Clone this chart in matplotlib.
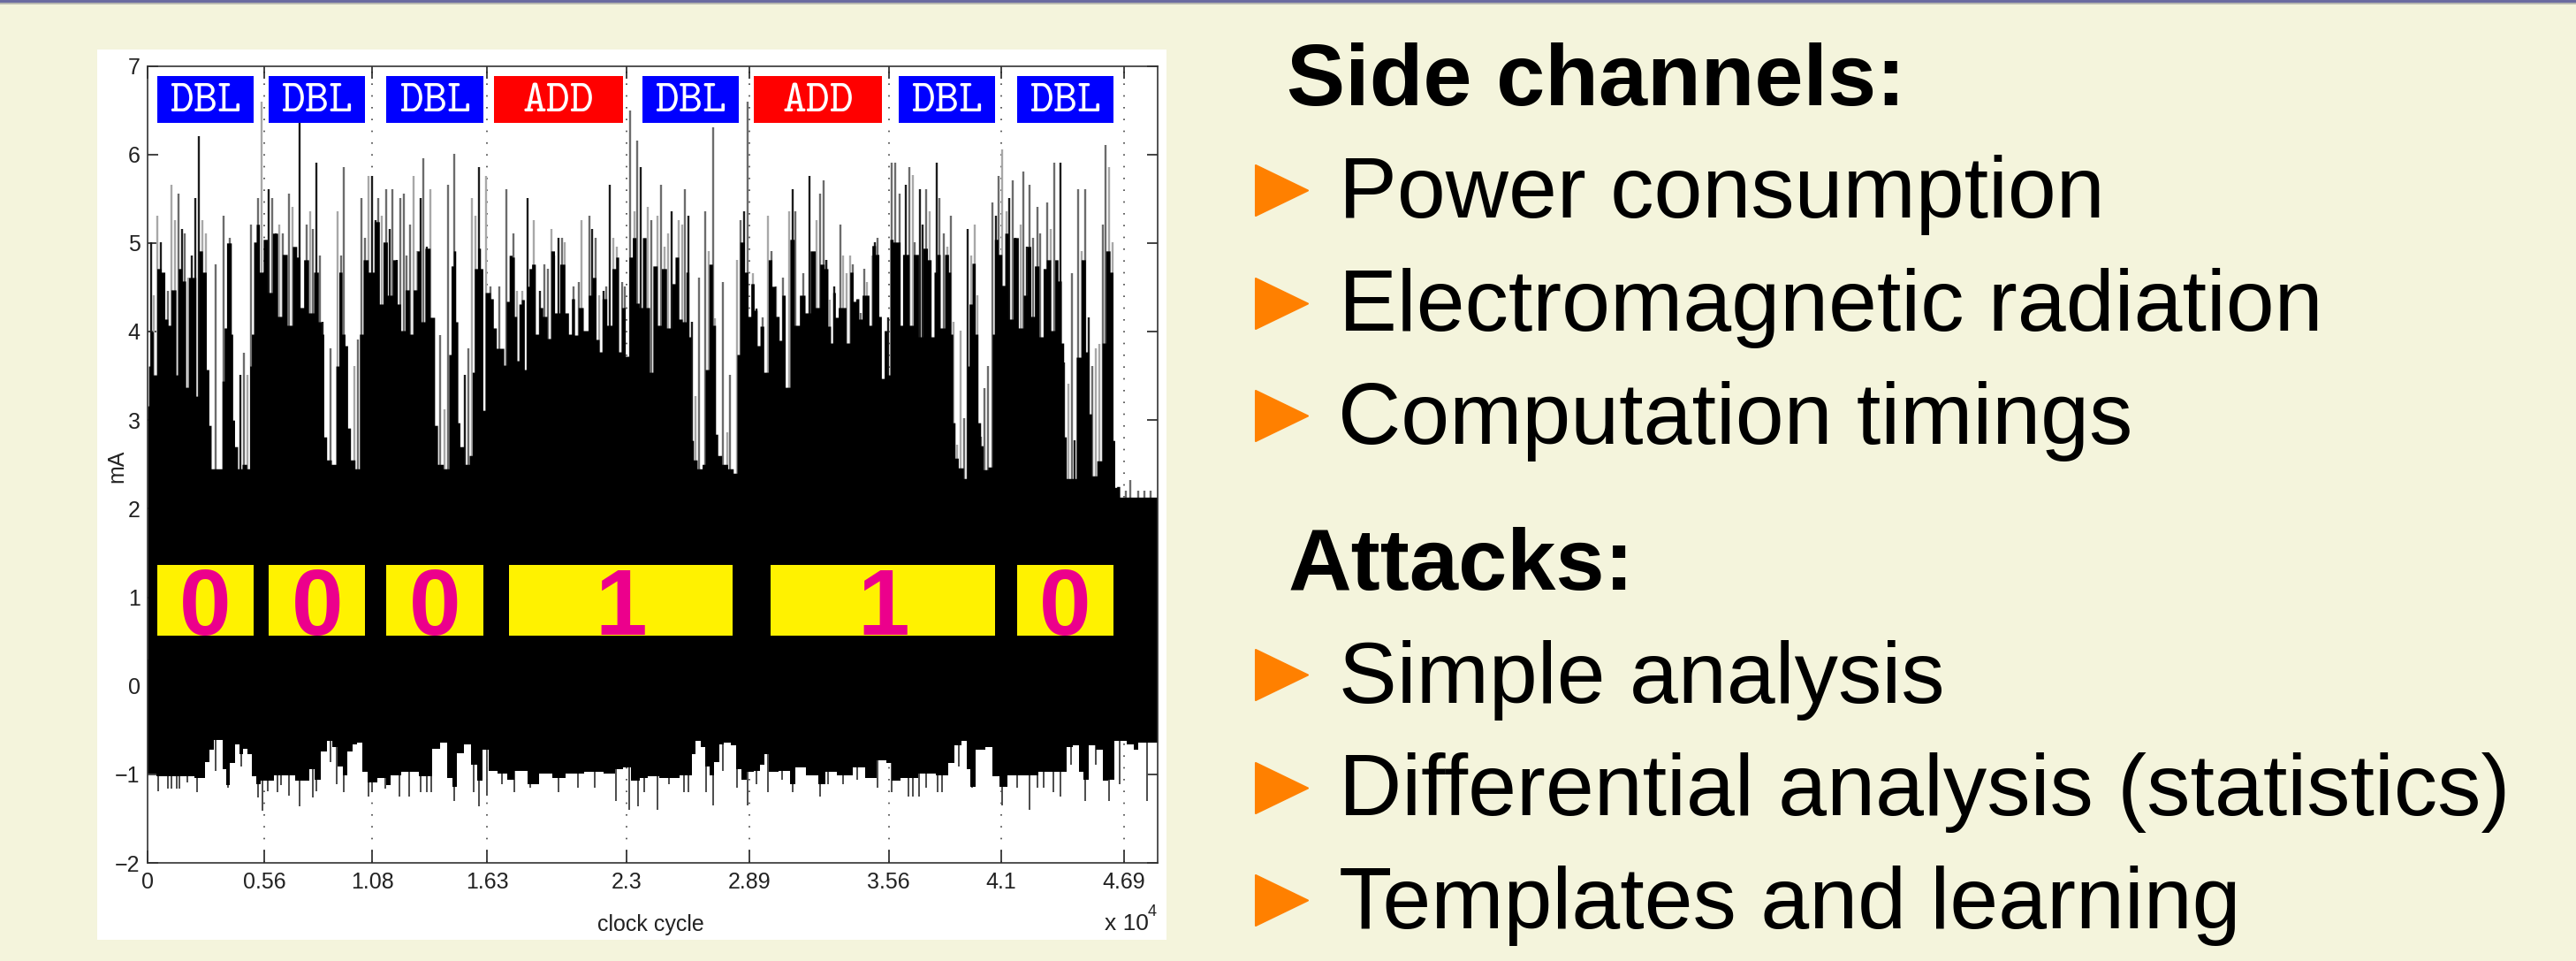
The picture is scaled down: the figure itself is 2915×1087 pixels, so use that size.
#!/usr/bin/python3
# Slide: power trace of a scalar multiplication, with the side channel lists
import matplotlib
matplotlib.use("Agg")
import matplotlib.pyplot as plt
from matplotlib.patches import Polygon, Rectangle

plt.rcParams['font.family'] = ['Liberation Sans', 'DejaVu Sans']
plt.rcParams['mathtext.fontset'] = 'cm'

### Data (x in units of 10^4 clock cycles, y in mA)

tick_x = [0, 0.56, 1.08, 1.63, 2.3, 2.89, 3.56, 4.1, 4.69]
tick_x_labels = ['0', '0.56', '1.08', '1.63', '2.3', '2.89', '3.56', '4.1', '4.69']
tick_y = [-2, -1, 0, 1, 2, 3, 4, 5, 6, 7]

# upper edge of the solid black part of the trace
top_x = [0, 0.01, 0.02, 0.034, 0.055, 0.076, 0.09, 0.105, 0.119, 0.133, 0.14, 0.154, 0.176, 0.19, 0.204,
         0.225, 0.239, 0.253, 0.275, 0.289, 0.30, 0.311, 0.328, 0.353, 0.362, 0.374, 0.385, 0.40, 0.405,
         0.413, 0.423, 0.442, 0.466, 0.487, 0.494, 0.504, 0.515, 0.529, 0.546, 0.565, 0.586, 0.614, 0.636,
         0.657, 0.685, 0.706, 0.727, 0.737, 0.763, 0.784, 0.812, 0.829, 0.841, 0.852, 0.869, 0.897, 0.912,
         0.926, 0.943, 0.954, 0.968, 0.982, 1.011, 1.025, 1.046, 1.074, 1.103, 1.124, 1.138, 1.166, 1.188,
         1.209, 1.223, 1.251, 1.265, 1.287, 1.301, 1.322, 1.343, 1.372, 1.386, 1.40, 1.442, 1.452, 1.464,
         1.475, 1.486, 1.495, 1.506, 1.534, 1.556, 1.563, 1.577, 1.594, 1.605, 1.616, 1.628,
         1.640, 1.654, 1.668, 1.683, 1.704, 1.718, 1.728, 1.746, 1.756, 1.768, 1.779, 1.789, 1.803, 1.817,
         1.827, 1.838, 1.852, 1.874, 1.888, 1.909, 1.930, 1.944, 1.966, 1.994, 2.015, 2.029, 2.044, 2.058,
         2.079, 2.107, 2.128, 2.143, 2.164, 2.175, 2.192, 2.220, 2.242, 2.256, 2.270, 2.284, 2.305, 2.320,
         2.338, 2.355, 2.369, 2.386, 2.404, 2.419, 2.436, 2.461, 2.475, 2.511, 2.525, 2.543, 2.560, 2.577,
         2.596, 2.605, 2.617, 2.628, 2.652, 2.676, 2.681, 2.688, 2.705, 2.723, 2.734, 2.744, 2.772, 2.801,
         2.826, 2.836, 2.855, 2.879, 2.889, 2.907, 2.921, 2.935, 2.949, 2.971, 2.992, 3.006, 3.027, 3.041,
         3.053, 3.073, 3.098, 3.115, 3.148, 3.169, 3.197, 3.218,
         3.240, 3.261, 3.276, 3.286, 3.297, 3.311, 3.325, 3.346, 3.365, 3.382, 3.396, 3.410, 3.424, 3.441,
         3.460, 3.471, 3.488, 3.506, 3.520, 3.530, 3.547, 3.559, 3.573, 3.590, 3.608, 3.622, 3.632, 3.651,
         3.665, 3.693, 3.714, 3.736, 3.757, 3.771, 3.785, 3.799, 3.816, 3.842, 3.853, 3.863, 3.874, 3.884,
         3.905, 3.934, 3.941, 3.952, 3.969, 3.983, 3.995, 4.009, 4.019, 4.054, 4.061, 4.075, 4.097, 4.111,
         4.125, 4.146, 4.170, 4.196, 4.217, 4.234, 4.252, 4.269, 4.295, 4.309, 4.326, 4.351, 4.365, 4.382,
         4.397, 4.405, 4.422, 4.450, 4.472, 4.497, 4.514, 4.528, 4.542, 4.578, 4.592, 4.613, 4.634, 4.641,
         4.651, 4.66, 4.68, 4.85]
top_y = [3.16, 3.61, 4.0, 3.51, 4.71, 4.67, 4.14, 4.07, 4.47, 4.47, 3.51, 4.71, 4.57, 3.37, 4.61,
         4.61, 3.27, 4.91, 4.67, 3.57, 2.94, 2.45, 2.45, 2.45, 3.44, 4.04, 5.0, 5.0, 3.97,
         3.0, 2.7, 2.45, 2.5, 2.45, 3.61, 3.97, 5.01, 5.21, 4.67, 5.04, 4.44, 5.11, 4.17,
         4.87, 4.07, 4.96, 4.84, 4.27, 4.81, 4.21, 4.67, 4.11, 3.97, 2.81, 2.55, 2.5, 3.61,
         4.67, 3.97, 3.84, 2.91, 2.55, 2.45, 3.97, 4.81, 4.67, 5.24, 4.31, 5.01, 4.41, 4.81,
         4.31, 4.01, 4.47, 3.97, 4.47, 4.91, 4.11, 4.94, 4.16, 2.94, 2.5, 2.45, 3.74, 4.74,
         4.91, 4.11, 2.97, 2.7, 2.5, 2.6, 3.54, 4.71, 4.94, 4.71, 3.11, 4.44,
         4.44, 4.37, 4.04, 3.81, 3.81, 3.62, 4.34, 4.86, 4.84, 4.17, 3.67, 4.31, 4.36, 3.57,
         4.51, 4.71, 4.76, 3.97, 4.27, 4.17, 3.92, 4.91, 4.21, 4.76, 4.21, 3.97, 4.37, 3.96,
         4.27, 4.01, 4.41, 4.61, 3.91, 3.77, 4.37, 4.07, 4.71, 4.84, 3.77, 4.27, 3.72, 4.84,
         5.06, 4.32, 4.27, 5.06, 4.27, 3.54, 4.74, 4.07, 4.71, 4.04, 4.54, 4.84, 4.14, 4.11,
         4.67, 3.94, 2.77, 2.55, 2.45, 2.5, 3.57, 3.57, 4.76, 4.07, 2.84, 2.6, 2.5, 2.45,
         2.4, 3.74, 5.01, 4.67, 4.17, 4.54, 4.24, 3.84, 4.06, 3.54, 4.81, 4.51, 4.17, 3.9,
         4.41, 3.37, 5.04, 4.07, 4.41, 4.21, 4.91, 4.27,
         4.76, 4.71, 4.06, 3.87, 4.44, 4.16, 4.27, 4.27, 3.87, 4.67, 4.34, 4.37, 4.14, 4.41,
         4.41, 4.07, 4.97, 4.87, 4.17, 3.47, 4.01, 3.51, 5.04, 5.01, 5.01, 4.07, 4.87, 4.87,
         4.07, 4.87, 3.94, 4.94, 4.81, 3.94, 4.67, 4.87, 4.04, 4.87, 4.67, 3.97, 2.97, 2.57,
         2.46, 2.34, 3.61, 4.31, 4.77, 3.97, 2.97, 2.71, 2.44, 2.47, 3.97, 5.04, 4.87, 4.52,
         5.11, 4.14, 5.06, 4.04, 4.41, 4.96, 4.17, 4.74, 3.94, 4.71, 4.81, 4.01, 4.81, 4.57,
         3.87, 2.81, 2.34, 2.34, 3.71, 4.81, 3.77, 3.07, 2.37, 2.54, 3.87, 4.91, 4.67, 2.77,
         2.24, 2.25, 2.13, 2.13]

# lower edge of the solid black part of the trace
low_x = [0, 0.084, 0.177, 0.269, 0.285, 0.308, 0.331, 0.354, 0.370, 0.385, 0.408, 0.432, 0.447, 0.470,
         0.493, 0.509, 0.532, 0.555, 0.586, 0.625, 0.686, 0.733, 0.764, 0.787, 0.818, 0.849, 0.872, 0.903,
         0.926, 0.949, 0.972, 0.995, 1.018, 1.042, 1.072, 1.134, 1.157, 1.181, 1.258, 1.351, 1.381, 1.428,
         1.451, 1.474, 1.497, 1.544, 1.567, 1.598, 1.621, 1.652, 1.706, 1.752, 1.775, 1.814, 1.837, 1.922,
         1.968, 2.045, 2.153, 2.230, 2.261, 2.308, 2.339, 2.393,
         2.412, 2.506, 2.608, 2.624, 2.640, 2.671, 2.687, 2.710, 2.734, 2.758, 2.781, 2.820, 2.836, 2.868,
         2.891, 2.930, 2.954, 2.974, 2.993, 3.072, 3.098, 3.127, 3.197, 3.245, 3.268, 3.355, 3.417, 3.480,
         3.527, 3.567, 3.582, 3.653, 3.747, 3.826, 3.865, 3.889, 3.928, 3.944, 3.959, 3.999, 4.046, 4.069,
         4.116, 4.148, 4.218, 4.344, 4.399, 4.431, 4.462, 4.486, 4.509, 4.533, 4.580, 4.595, 4.635, 4.650,
         4.690, 4.721, 4.753, 4.768, 4.839, 4.85]
low_y = [-0.99, -1.02, -1.02, -1.04, -0.86, -0.72, -0.61, -0.61, -0.94, -1.12, -0.87, -0.66, -0.77, -0.71,
         -0.77, -1.02, -1.11, -1.07, -1.07, -1.01, -1.01, -1.07, -1.07, -0.94, -1.06, -0.74, -0.62, -0.69,
         -0.91, -1.01, -0.74, -0.66, -0.64, -0.97, -1.09, -1.04, -1.12, -1.01, -0.97, -1.02, -0.71, -0.64,
         -1.04, -1.14, -0.76, -0.66, -0.89, -1.07, -0.72, -0.96, -0.99, -1.06, -0.96, -0.96, -1.11, -0.99,
         -1.04, -0.99, -0.97, -0.99, -0.94, -0.92, -1.07, -1.04,
         -1.02, -1.04, -1.01, -0.77, -0.62, -0.69, -0.91, -1.01, -0.86, -0.66, -0.64, -0.67, -0.94, -1.06,
         -0.97, -0.96, -0.89, -0.77, -0.97, -0.96, -1.11, -0.92, -1.01, -1.11, -0.97, -1.01, -0.92, -1.04,
         -0.84, -0.87, -1.07, -1.04, -0.99, -1.01, -0.87, -0.67, -0.62, -0.94, -1.14, -0.72, -0.69, -1.02,
         -1.14, -1.01, -1.01, -0.97, -0.97, -0.69, -0.67, -0.97, -1.06, -0.67, -0.72, -1.07, -1.06, -0.62,
         -0.62, -0.66, -0.72, -0.64, -0.64, -0.64]

# upward spikes, by grey level
light_x = [0.048, 0.031, 0.115, 0.133, 0.197, 0.263, 0.279, 0.480, 0.546, 0.631, 0.695, 0.779, 0.912, 0.994,
           1.062, 1.127, 1.277, 1.294, 1.359, 1.425, 1.560, 1.577, 1.626,
           1.773, 1.799, 1.857, 1.940, 2.005, 2.086, 2.171, 2.239, 2.253, 2.338, 2.402, 2.451, 2.482, 2.501,
           2.550, 2.569, 2.632, 2.697, 2.727, 2.784, 2.833, 2.907, 2.982, 3.081, 3.213,
           3.278, 3.342, 3.358, 3.375, 3.455, 3.481, 3.675, 3.757, 3.842, 3.870, 3.887, 3.905, 3.956, 3.973,
           3.985, 4.106, 4.125, 4.193, 4.337, 4.487, 4.554, 4.571, 4.620, 4.634, 4.422]
light_y = [5.31, 4.41, 5.66, 5.26, 4.61, 5.26, 5.11, 3.51, 6.6, 5.21, 5.41, 5.36, 5.36, 3.61,
           5.76, 5.31, 5.76, 4.91, 5.61, 3.12, 5.51, 5.31, 5.76,
           4.46, 4.46, 5.26, 5.16, 5.01, 5.26, 4.41, 5.06, 4.96, 5.36, 5.41, 5.31, 4.96, 5.11,
           5.26, 5.21, 3.27, 4.91, 4.15, 2.86, 4.81, 4.66, 5.31, 5.36, 5.26,
           4.36, 4.86, 4.66, 4.86, 4.56, 4.86, 5.77, 5.36, 4.96, 4.11, 2.72, 4.01, 4.86, 5.21,
           4.41, 6.06, 5.36, 5.21, 5.16, 4.91, 3.81, 3.86, 5.86, 5.01, 3.41]
mid_x = [0.098, 0.147, 0.180, 0.328, 0.364, 0.395, 0.461, 0.498, 0.529, 0.597, 0.648, 0.678, 0.763, 0.795,
         0.827, 0.879, 0.929, 0.944, 1.012, 1.028, 1.045, 1.110, 1.145, 1.178, 1.212, 1.229, 1.243, 1.260,
         1.325, 1.407, 1.444, 1.475, 1.541,
         1.647, 1.690, 1.725, 1.756, 1.905, 1.923, 1.954, 1.990, 2.046, 2.072, 2.121, 2.154, 2.203, 2.280,
         2.294, 2.317, 2.352, 2.419, 2.465, 2.581, 2.649, 2.680, 2.716, 2.764, 2.798, 2.850, 2.883, 2.956,
         2.999, 3.020, 3.051, 3.112, 3.148, 3.230, 3.247, 3.261,
         3.328, 3.389, 3.427, 3.441, 3.508, 3.576, 3.591, 3.611, 3.658, 3.686, 3.740, 3.805, 3.823, 3.857,
         3.924, 4.005, 4.022, 4.037, 4.058, 4.089, 4.156, 4.206, 4.238, 4.252, 4.273, 4.288, 4.320, 4.354,
         4.439, 4.470, 4.504, 4.538, 4.588, 4.603, 4.70, 4.72, 4.76, 4.79, 4.82]
mid_y = [4.46, 5.56, 5.11, 4.76, 5.31, 5.06, 3.76, 5.21, 5.51, 5.51, 5.11, 5.56, 5.21, 5.16,
         4.86, 3.81, 4.86, 5.86, 3.91, 5.51, 5.06, 5.51, 5.61, 5.61, 5.51, 5.56, 4.86, 5.21,
         5.96, 3.96, 5.66, 6.01, 3.81,
         4.51, 4.51, 5.61, 5.11, 4.76, 4.71, 4.86, 5.06, 4.51, 4.56, 5.31, 5.06, 4.51, 4.56,
         4.51, 6.5, 6.16, 5.26, 5.66, 5.61, 4.61, 5.36, 6.31, 4.56, 3.51, 5.26, 6.6, 4.16,
         4.91, 4.51, 4.61, 5.36, 4.66, 5.56, 5.71, 4.81,
         5.21, 4.76, 4.21, 4.71, 5.06, 5.91, 5.91, 5.56, 5.86, 5.01, 5.61, 5.51, 5.11, 5.31,
         3.02, 2.81, 3.36, 3.61, 5.46, 5.76, 5.71, 5.81, 5.66, 5.06, 5.41, 5.11, 5.46, 5.91,
         4.66, 5.61, 5.61, 3.61, 5.21, 6.11, 2.2, 2.32, 2.2, 2.2, 2.2]
dark_x = [0.017, 0.065, 0.164, 0.211, 0.229, 0.245, 0.447, 0.580, 0.614, 0.729, 0.811, 0.841, 1.079, 1.096,
          1.162, 1.195, 1.311, 1.343, 1.524, 1.594,
          1.824, 1.885, 1.973, 2.137, 2.192, 2.219, 2.369, 2.516, 2.598, 2.613, 2.867, 2.924, 3.098, 3.179,
          3.261, 3.300, 3.410, 3.492, 3.556, 3.641, 3.709, 3.723, 3.789, 3.941, 4.074, 4.140, 4.170, 4.224,
          4.387, 4.402, 4.454, 4.521]
dark_y = [5.01, 5.01, 5.16, 4.86, 5.51, 6.21, 3.51, 5.61, 5.11, 6.36, 5.91, 4.11, 5.76, 5.26,
          5.16, 4.81, 5.51, 4.96, 3.51, 5.86,
          5.51, 4.46, 5.06, 5.16, 4.46, 5.66, 5.86, 5.36, 5.31, 4.11, 5.36, 4.26, 5.61, 5.76,
          4.81, 4.51, 4.36, 5.01, 4.16, 5.66, 5.61, 5.21, 5.91, 5.16, 5.31, 5.51, 5.06, 4.96,
          5.91, 3.65, 2.77, 4.16]

# downward spikes under the lower edge
drop_x = [0.050, 0.097, 0.115, 0.141, 0.154, 0.189, 0.239, 0.328, 0.385, 0.450, 0.529, 0.551, 0.578, 0.622,
          0.640, 0.679, 0.730, 0.795, 0.810, 0.879, 0.910, 0.944, 1.060, 1.080, 1.142, 1.211, 1.258, 1.312,
          1.343, 1.363, 1.474, 1.566, 1.594, 1.628, 1.702, 1.760, 1.837, 1.973, 2.068, 2.146, 2.249, 2.315,
          2.354, 2.385,
          2.451, 2.506, 2.577, 2.600, 2.682, 2.715, 2.765, 2.833, 2.883, 2.923, 2.981, 3.048, 3.097, 3.229,
          3.268, 3.339, 3.409, 3.507, 3.574, 3.653, 3.677, 3.708, 3.739, 3.794, 3.818, 3.896, 3.959, 4.105,
          4.179, 4.237, 4.273, 4.305, 4.352, 4.387, 4.438, 4.504, 4.556, 4.619, 4.671, 4.803]
drop_y = [-1.19, -1.16, -1.16, -1.16, -1.16, -1.09, -1.2, -0.96, -1.15, -0.91, -1.26, -1.41, -1.19, -1.2,
          -1.12, -1.24, -1.36, -1.26, -1.19, -0.86, -1.11, -1.2, -1.25, -1.2, -1.16, -1.25, -1.25, -1.2,
          -1.2, -1.2, -1.3, -1.2, -1.36, -1.24, -1.11, -1.2, -1.15, -1.2, -1.15, -1.15, -1.3, -1.4,
          -1.36, -1.2,
          -1.4, -1.11, -1.2, -1.2, -1.2, -1.35, -0.96, -1.15, -1.35, -1.11, -1.2, -1.06, -1.2, -1.25,
          -1.11, -1.11, -1.06, -1.15, -1.2, -1.25, -1.25, -1.25, -1.15, -1.2, -1.2, -0.91, -1.15, -1.35,
          -1.15, -1.4, -1.15, -1.15, -1.2, -1.25, -0.89, -1.3, -0.89, -1.3, -1.11, -1.3]

# operations along the trace
op_labels = ['DBL', 'DBL', 'DBL', 'ADD', 'DBL', 'ADD', 'DBL', 'DBL']
op_start = [0.046, 0.582, 1.148, 1.664, 2.377, 2.913, 3.610, 4.177]
op_end = [0.510, 1.046, 1.612, 2.283, 2.840, 3.529, 4.073, 4.638]

# recovered key bits
bit_labels = ['0', '0', '0', '1', '1', '0']
bit_start = [0.046, 0.582, 1.148, 1.736, 2.994, 4.177]
bit_end = [0.510, 1.046, 1.612, 2.809, 4.073, 4.638]

headings = ['Side channels:', 'Attacks:']
bullets_side = ['Power consumption', 'Electromagnetic radiation', 'Computation timings']
bullets_attack = ['Simple analysis', 'Differential analysis (statistics)', 'Templates and learning']

### Figure

W, H = 2915, 1087
bgcolor = '#F4F4DC'
orange = '#FF8000'
textcol = '#222222'
fig = plt.figure(figsize=(W/100, H/100), dpi=100, facecolor=bgcolor)

# full size layer, in pixels
bg = fig.add_axes([0, 0, 1, 1], zorder=0)
bg.set_xlim(0, W)
bg.set_ylim(H, 0)
bg.axis('off')
bg.add_patch(Rectangle((0, 0), W, 3, color='#6A6AA0', lw=0))
bg.add_patch(Rectangle((0, 3), W, 2, color='#B8B8B0', lw=0))
bg.add_patch(Rectangle((110, 56), 1210, 1007, color='white', lw=0))

def arrow(x0, y0, y1):
    bg.add_patch(Polygon([(x0, y0), (x0+59, (y0+y1)/2), (x0, y1)], closed=True, fc=orange, ec=orange,
                         lw=1.5, joinstyle='round'))

def bullet_text(x, y, s):
    bg.text(x, y, s, fontsize=71, color='black', ha='left', va='baseline')

bg.text(1456, 119.5, headings[0], fontsize=71.5, fontweight='bold', va='baseline')
for s, x, y, tri in zip(bullets_side, [1515, 1515, 1514], [246, 374, 501.7], [187, 315, 442]):
    arrow(1421, tri, tri+57)
    bullet_text(x, y, s)

bg.text(1458, 667, headings[1], fontsize=71.5, fontweight='bold', va='baseline')
for s, x, y, tri in zip(bullets_attack, [1515, 1515, 1515], [795, 922, 1050], [735, 863, 990]):
    arrow(1421, tri, tri+57)
    bullet_text(x, y, s)

# trace axes
ax = fig.add_axes([167/W, 1-976/H, (1309.5-167)/W, (976-74.5)/H], zorder=1)
ax.set_xlim(0, 4.85)
ax.set_ylim(-2, 7)
ax.patch.set_alpha(0)

for x in tick_x[1:]:
    ax.plot([x, x], [-2, 7], color='#444444', lw=1.2, dashes=(1, 7), zorder=1)

ax.vlines(light_x, 1, light_y, color='#A8A8A8', lw=1.7, zorder=2)
ax.vlines(mid_x, 1, mid_y, color='#6C6C6C', lw=1.7, zorder=3)
ax.vlines(dark_x, 1, dark_y, color='#1C1C1C', lw=1.7, zorder=4)
ax.vlines(drop_x, -0.5, drop_y, color='#4C4C4C', lw=1.4, zorder=4)
ax.fill_between(top_x, -0.3, top_y, step='mid', color='black', lw=0, zorder=5)
ax.fill_between(low_x, 0.3, low_y, step='mid', color='black', lw=0, zorder=5)

for label, x0, x1 in zip(op_labels, op_start, op_end):
    col = '#FF0000' if label == 'ADD' else '#0000FF'
    ax.add_patch(Rectangle((x0, 6.36), x1-x0, 0.53, color=col, lw=0, zorder=6))
    ax.text((x0+x1)/2, 6.625, r'$\mathtt{%s}$' % label, color='white', fontsize=37,
            ha='center', va='center', zorder=7)

for label, x0, x1 in zip(bit_labels, bit_start, bit_end):
    ax.add_patch(Rectangle((x0, 0.563), x1-x0, 0.797, color='#FFF200', lw=0, zorder=6))
    ax.text((x0+x1)/2, 0.96, label, color='#EC008C', fontsize=76, fontweight='bold',
            ha='center', va='center_baseline', zorder=7)

ax.set_xticks(tick_x)
ax.set_xticklabels(tick_x_labels)
ax.set_yticks(tick_y)
ax.tick_params(axis='both', direction='in', top=True, right=True, color='#222222', labelcolor=textcol,
               labelsize=18, width=1.2)
ax.tick_params(axis='x', length=10, pad=7)
ax.tick_params(axis='y', length=8.5, pad=6)
for s in ax.spines.values():
    s.set_linewidth(1.2)
    s.set_color('#333333')
    s.set_zorder(8)

bg.text(132, 527, 'mA', rotation=90, fontsize=18, color=textcol, ha='center', va='center')
bg.text(736, 1046, 'clock cycle', fontsize=18, color=textcol, ha='center', va='center')
bg.text(1250, 1052, 'x 10', fontsize=19, color=textcol, ha='left', va='baseline')
bg.text(1299, 1036, '4', fontsize=13, color=textcol, ha='left', va='baseline')

fig.savefig('out.png', dpi=100, facecolor=bgcolor)
